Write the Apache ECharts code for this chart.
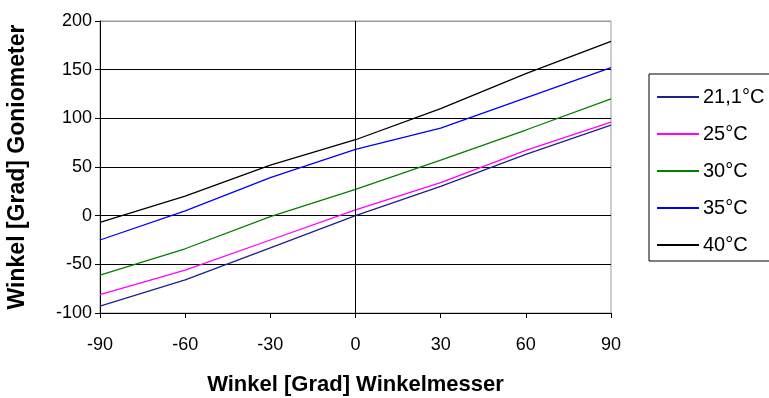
<!DOCTYPE html>
<html>
<head>
<meta charset="utf-8">
<script src="https://cdn.jsdelivr.net/npm/echarts@6/dist/echarts.min.js"></script>
<style>
  html, body { margin: 0; padding: 0; background: #fff; }
  #chart { width: 769px; height: 398px; }
</style>
</head>
<body>
<div id="chart"></div>
<script>
// Winkelmesser angle (x) against goniometer reading (y) for several temperatures
const angles = [-90, -60, -30, 0, 30, 60, 90];
const seriesNames = ['21,1°C', '25°C', '30°C', '35°C', '40°C'];
const t21 = [-93, -66, -33, 0, 30, 63, 93];
const t25 = [-81, -56, -25, 6, 34, 67, 96];
const t30 = [-61, -34, -1, 27, 57, 88, 120];
const t35 = [-25, 5, 39, 68, 90, 121, 152];
const t40 = [-7, 20, 52, 78, 110, 146, 179];
const xTicks = [-90, -60, -30, 0, 30, 60, 90];
const yTicks = [-100, -50, 0, 50, 100, 150, 200];

const values = [t21, t25, t30, t35, t40];
const colors = ['#20208a', '#ff00ff', '#008000', '#0000ff', '#000000'];

const tickFont = "'Liberation Sans', Arial, sans-serif";
const titleFont = "'Liberation Sans', Arial, sans-serif";

const series = values.map((vals, i) => ({
  name: seriesNames[i],
  type: 'line',
  data: angles.map((a, j) => [a, vals[j]]),
  symbol: 'none',
  lineStyle: { color: colors[i], width: 1.3 },
  itemStyle: { color: colors[i] },
  z: 3
}));

// vertical reference line at x = 0
series[0].markLine = {
  silent: true,
  symbol: 'none',
  label: { show: false },
  lineStyle: { color: '#000', type: 'solid', width: 1 },
  data: [{ xAxis: 0 }]
};

// split line colours cycle from the bottom tick; the top one sits under the grey frame
const splitColors = yTicks.map((v, i) => (i === yTicks.length - 1 ? '#9a9a9a' : '#000'));

const chart = echarts.init(document.getElementById('chart'), null, { renderer: 'canvas' });
chart.setOption({
  animation: false,
  backgroundColor: '#fff',
  grid: {
    left: 100, right: 158, top: 21, bottom: 85,
    containLabel: false,
    outerBoundsMode: 'none',
    show: true, borderColor: '#9a9a9a', borderWidth: 1
  },
  xAxis: {
    type: 'value',
    min: xTicks[0], max: xTicks[xTicks.length - 1], interval: 30,
    name: 'Winkel [Grad] Winkelmesser',
    nameLocation: 'middle',
    nameGap: 61,
    nameTextStyle: { fontFamily: titleFont, fontWeight: 'bold', fontSize: 22, color: '#000' },
    axisLine: { onZero: false, lineStyle: { color: '#000', width: 1 } },
    axisTick: { show: true, length: 5, inside: false, lineStyle: { color: '#000' } },
    axisLabel: { margin: 23, fontFamily: tickFont, fontSize: 18, color: '#000' },
    splitLine: { show: false }
  },
  yAxis: {
    type: 'value',
    min: yTicks[0], max: yTicks[yTicks.length - 1], interval: 50,
    name: 'Winkel [Grad] Goniometer',
    nameLocation: 'middle',
    nameGap: 71,
    nameTextStyle: { fontFamily: titleFont, fontWeight: 'bold', fontSize: 23, color: '#000' },
    axisLine: { show: true, onZero: false, lineStyle: { color: '#000', width: 1 } },
    axisTick: { show: true, length: 5, inside: false, lineStyle: { color: '#000' } },
    axisLabel: { margin: 8, fontFamily: tickFont, fontSize: 18, color: '#000' },
    splitLine: { show: true, lineStyle: { color: splitColors, width: 1 } }
  },
  legend: {
    orient: 'vertical',
    left: 649, top: 74,
    padding: [13, 24, 6, 8],
    itemGap: 17,
    itemWidth: 42, itemHeight: 2,
    icon: 'rect',
    borderColor: '#000', borderWidth: 1,
    textStyle: { fontFamily: tickFont, fontSize: 20, color: '#000', padding: [0, 0, 0, -1] },
    data: seriesNames
  },
  series: series
});
</script>
</body>
</html>
